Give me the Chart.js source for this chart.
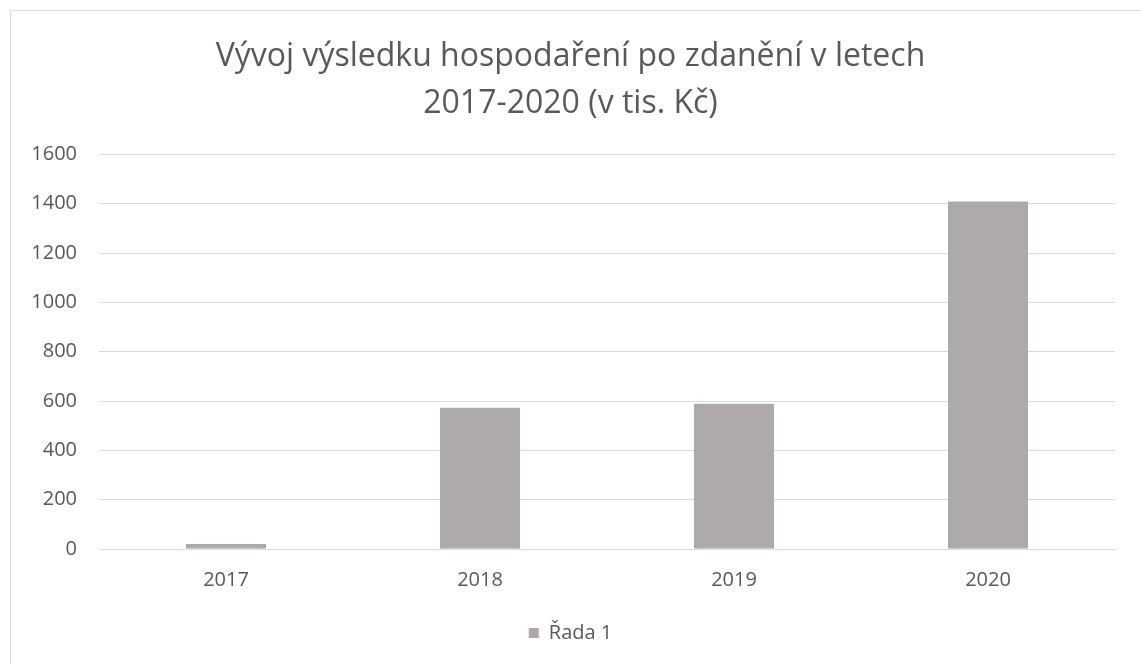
<!DOCTYPE html>
<html>
<head>
  <title>Vývoj výsledku hospodaření</title>
  <script src="https://cdn.jsdelivr.net/npm/chart.js"></script>
  <style>
    html, body { margin: 0; padding: 0; background: #fff; overflow: hidden; }
    #wrap { position: absolute; left: 0; top: 0; width: 1141px; height: 664px; }
    #frame { position: absolute; left: 10px; top: 10px; width: 1140px; height: 660px; border: 1px solid #d9d9d9; box-sizing: border-box; pointer-events: none; }
  </style>
</head>
<body>
  <div id="wrap"><canvas id="chart"></canvas></div>
  <div id="frame"></div>

  <script>
    const years = ["2017", "2018", "2019", "2020"];
    const result = [20, 573, 589, 1409];
    const titleLines = ["Vývoj výsledku hospodaření po zdanění v letech", "2017-2020 (v tis. Kč)"];
    const textColor = "#595959";
    const font = "'Open Sans', 'Noto Sans', sans-serif";

    new Chart(document.getElementById("chart"), {
      type: "bar",
      data: {
        labels: years,
        datasets: [{
          label: "Řada 1",
          data: result,
          backgroundColor: "#aeaaaa",
          barPercentage: 0.63,
          categoryPercentage: 0.5
        }]
      },
      options: {
        responsive: true,
        maintainAspectRatio: false,
        animation: false,
        layout: { padding: { left: 26, right: 26, top: 34, bottom: 11 } },
        plugins: {
          title: {
            display: true,
            text: titleLines,
            color: textColor,
            font: { family: font, size: 32, weight: "normal", lineHeight: 1.46 },
            padding: { top: 0, bottom: 27 }
          },
          legend: {
            position: "bottom",
            labels: {
              color: textColor,
              font: { family: font, size: 20 },
              boxWidth: 10,
              boxHeight: 10,
              padding: 20
            }
          },
          tooltip: { enabled: false }
        },
        scales: {
          x: {
            grid: { display: false },
            border: { color: "#d9d9d9" },
            ticks: { color: textColor, font: { family: font, size: 20 }, padding: 11 }
          },
          y: {
            min: 0,
            max: 1600,
            ticks: {
              stepSize: 200,
              color: textColor,
              font: { family: font, size: 20 },
              padding: 22,
              callback: v => String(v)
            },
            grid: { color: "#d9d9d9", drawTicks: false },
            border: { display: false },
            afterFit: function(axis) { axis.width = 73; }
          }
        }
      }
    });
  </script>
</body>
</html>
